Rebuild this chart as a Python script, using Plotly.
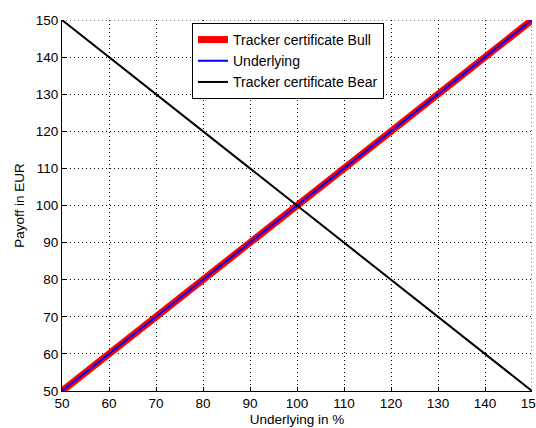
import plotly.graph_objects as go

underlying_pct = [50, 150]
payoff_bull = [50, 150]
payoff_underlying = [50, 150]
payoff_bear = [150, 50]
ticks = list(range(50, 151, 10))
axis_max = 150

FONT = "Liberation Sans, Arial"

fig = go.Figure()
fig.add_trace(go.Scatter(x=underlying_pct, y=payoff_bull, mode="lines",
                         name="Tracker certificate Bull",
                         line=dict(color="#ff0000", width=7)))
fig.add_trace(go.Scatter(x=underlying_pct, y=payoff_underlying, mode="lines",
                         name="Underlying",
                         line=dict(color="#0000ff", width=2)))
fig.add_trace(go.Scatter(x=underlying_pct, y=payoff_bear, mode="lines",
                         name="Tracker certificate Bear",
                         line=dict(color="#000000", width=2)))

axis_common = dict(
    range=[50, 150], tickvals=ticks, showgrid=True, gridcolor="#000000",
    gridwidth=1, griddash="1px,3px", showline=True, linecolor="#000000",
    linewidth=1, ticks="inside", ticklen=4, tickcolor="#000000",
    zeroline=False, mirror=False, ticklabeloverflow="allow",
    tickfont=dict(family=FONT, size=13.5, color="#000000"),
    title_font=dict(family=FONT, size=13.5, color="#000000"),
)
fig.update_xaxes(title_text="Underlying in %", title_standoff=4, **axis_common)
fig.update_yaxes(title_text="Payoff in EUR", title_standoff=8, **axis_common)

# grid lines at the range ends (plotly drops them automatically)
fig.add_shape(type="line", xref="x", yref="y domain", x0=axis_max, x1=axis_max,
              y0=0, y1=1, line=dict(color="#000000", width=1, dash="1px,3px"),
              layer="below")
fig.add_shape(type="line", xref="x domain", yref="y", x0=0, x1=1,
              y0=axis_max, y1=axis_max,
              line=dict(color="#000000", width=1, dash="1px,3px"), layer="below")

fig.update_layout(
    width=536, height=428,
    margin=dict(l=62, r=4, t=20, b=37, autoexpand=False),
    paper_bgcolor="#ffffff", plot_bgcolor="#ffffff",
    showlegend=True,
    legend=dict(x=0.2766, y=0.992, xanchor="left", yanchor="top",
                bgcolor="#ffffff", bordercolor="#000000", borderwidth=1,
                font=dict(family=FONT, size=14, color="#000000"),
                tracegroupgap=0),
    font=dict(family=FONT, size=13.5, color="#000000"),
)

fig.write_html("out.html")
